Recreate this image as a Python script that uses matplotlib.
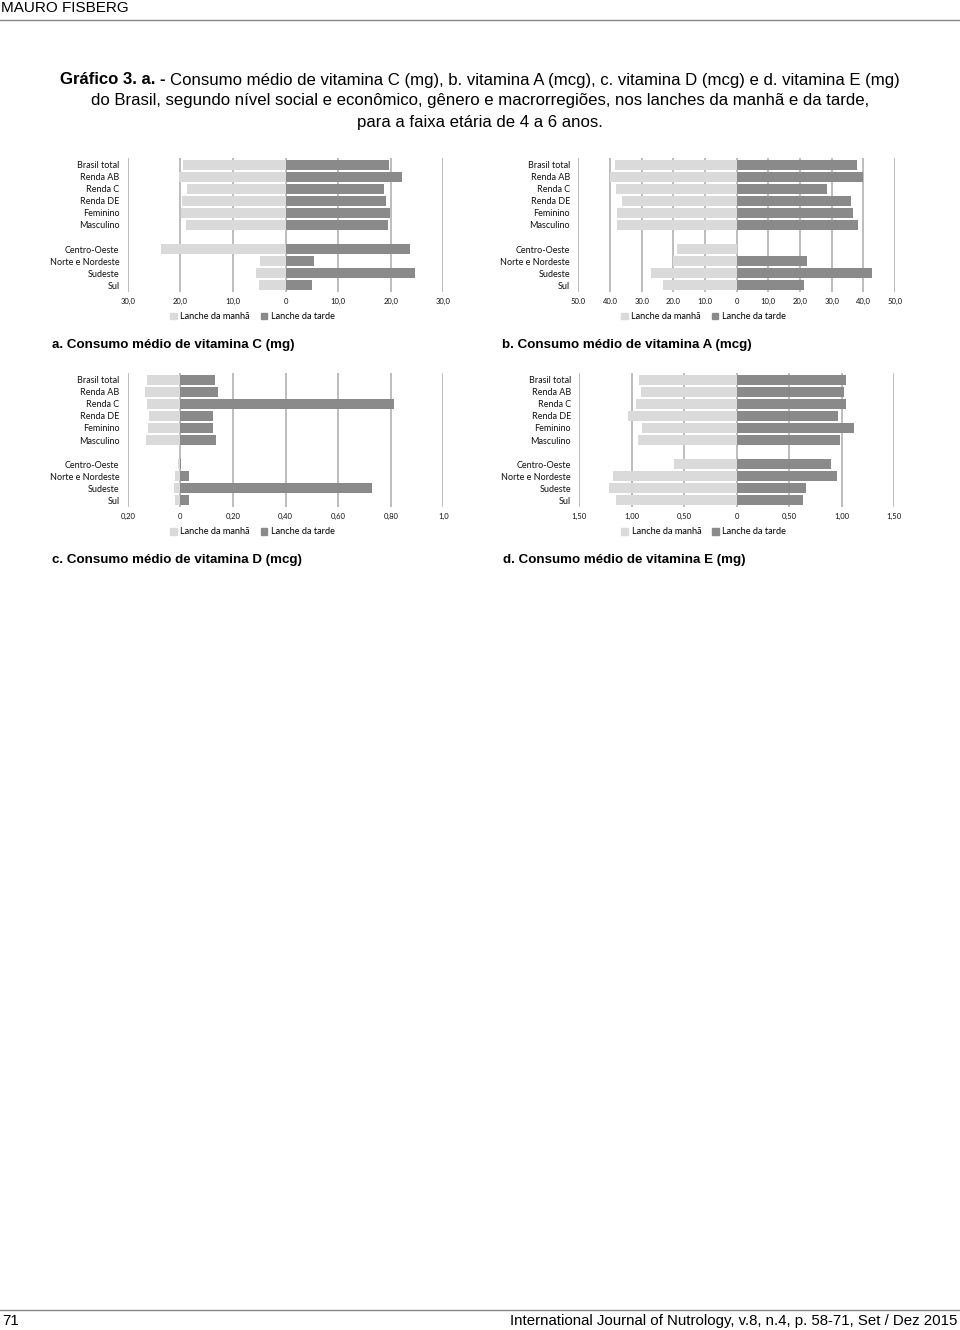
import numpy as np
import matplotlib
matplotlib.use('Agg')
import matplotlib.pyplot as plt
from matplotlib.patches import Patch
from matplotlib.lines import Line2D

# categorias (com um espaço entre gênero e macrorregiões)
categorias = ['Brasil total', 'Renda AB', 'Renda C', 'Renda DE', 'Feminino', 'Masculino',
              'Centro-Oeste', 'Norte e Nordeste', 'Sudeste', 'Sul']
ypos = [0, 1, 2, 3, 4, 5, 7, 8, 9, 10]

# a. vitamina C (mg)
vitC_manha = [19.4, 20.2, 18.7, 19.6, 19.9, 18.9, 23.7, 4.9, 5.6, 5.1]
vitC_tarde = [19.6, 22.1, 18.7, 19.2, 19.8, 19.4, 23.6, 5.4, 24.6, 5.1]
# b. vitamina A (mcg)
vitA_manha = [38.4, 39.9, 38.2, 36.1, 37.9, 37.9, 18.9, 20.2, 27.1, 23.1]
vitA_tarde = [37.9, 40.0, 28.4, 36.2, 36.6, 38.3, 0.0, 22.3, 42.7, 21.2]
# c. vitamina D (mcg)
vitD_manha = [0.128, 0.134, 0.125, 0.120, 0.123, 0.129, 0.009, 0.022, 0.023, 0.022]
vitD_tarde = [0.133, 0.143, 0.814, 0.125, 0.125, 0.134, 0.001, 0.034, 0.729, 0.033]
# d. vitamina E (mg)
vitE_manha = [0.93, 0.91, 0.96, 1.04, 0.90, 0.94, 0.60, 1.18, 1.22, 1.15]
vitE_tarde = [1.04, 1.02, 1.04, 0.96, 1.12, 0.98, 0.90, 0.95, 0.66, 0.63]

ticks_C = [-30, -20, -10, 0, 10, 20, 30]
ticklabels_C = ['30,0', '20,0', '10,0', '0', '10,0', '20,0', '30,0']
ticks_A = [-50, -40, -30, -20, -10, 0, 10, 20, 30, 40, 50]
ticklabels_A = ['50.0', '40.0', '30.0', '20.0', '10.0', '0', '10,0', '20,0', '30,0', '40,0', '50,0']
ticks_D = [-0.2, 0, 0.2, 0.4, 0.6, 0.8, 1.0]
ticklabels_D = ['0,20', '0', '0,20', '0,40', '0,60', '0,80', '1,0']
ticks_E = [-1.5, -1.0, -0.5, 0, 0.5, 1.0, 1.5]
ticklabels_E = ['1,50', '1,00', '0,50', '0', '0,50', '1,00', '1,50']

series = ['Lanche da manhã', 'Lanche da tarde']

W, H = 960, 1330
cor_manha = '#dadada'
cor_tarde = '#8a8a8a'
cor_grade = '#b8b8b8'
fonte_graf = 'Lato'
fonte_txt = ['Liberation Sans', 'DejaVu Sans']

fig = plt.figure(figsize=(W/100, H/100), dpi=100)


def px(x, y):
    # pixel (topo-esquerda) -> fração da figura
    return x / W, 1 - y / H


def painel(x0, x1, y0, y1, manha, tarde, ticks, ticklabels, subtitulo):
    ax = fig.add_axes([x0/W, 1 - y1/H, (x1 - x0)/W, (y1 - y0)/H])
    ax.barh(ypos, -np.array(manha), height=0.85, color=cor_manha, zorder=3)
    ax.barh(ypos, tarde, height=0.85, color=cor_tarde, zorder=3)
    ax.set_xlim(ticks[0], ticks[-1])
    ax.set_ylim(10.58, -0.58)
    ax.set_xticks(ticks)
    ax.set_xticklabels(ticklabels, fontsize=5.5, family=fonte_graf, color='#111111')
    ax.set_yticks(ypos)
    ax.set_yticklabels(categorias, fontsize=6.5, family=fonte_graf, color='#111111')
    ax.tick_params(length=0, pad=6)
    ax.tick_params(axis='x', pad=4)
    for t in ticks:
        ax.axvline(t, color=cor_grade, lw=1.3, zorder=1)
    for s in ax.spines.values():
        s.set_visible(False)
    handles = [Patch(color=cor_manha), Patch(color=cor_tarde)]
    cx = (x0 + x1) / 2 - 33
    fig.legend(handles, series, loc='center', bbox_to_anchor=px(cx, y1 + 25), ncol=2,
               frameon=False, handlelength=0.7, handleheight=0.7, handletextpad=0.4,
               columnspacing=1.2, prop={'family': fonte_graf, 'size': 6.6})
    fig.text(*px(x0 - 76, y1 + 53), subtitulo, fontsize=9.6, fontweight='bold',
             family=fonte_txt, va='center', ha='left')
    return ax


painel(127.7, 443.3, 158, 292, vitC_manha, vitC_tarde, ticks_C, ticklabels_C,
       'a. Consumo médio de vitamina C (mg)')
painel(578.3, 895.0, 158, 292, vitA_manha, vitA_tarde, ticks_A, ticklabels_A,
       'b. Consumo médio de vitamina A (mcg)')
painel(127.7, 443.3, 373, 507, vitD_manha, vitD_tarde, ticks_D, ticklabels_D,
       'c. Consumo médio de vitamina D (mcg)')
painel(579.3, 894.3, 373, 507, vitE_manha, vitE_tarde, ticks_E, ticklabels_E,
       'd. Consumo médio de vitamina E (mg)')

# cabeçalho e rodapé
fig.text(*px(1, 8), 'MAURO FISBERG', fontsize=11, family=fonte_txt, va='center', ha='left')
fig.add_artist(Line2D([0, 1], [1 - 20/H, 1 - 20/H], color='#888888', lw=1))
fig.add_artist(Line2D([0, 1], [1 - 1310/H, 1 - 1310/H], color='#888888', lw=1))
fig.text(*px(2, 1321), '71', fontsize=10.8, family=fonte_txt, va='center', ha='left')
fig.text(*px(957, 1321), 'International Journal of Nutrology, v.8, n.4, p. 58-71, Set / Dez 2015',
         fontsize=10.8, family=fonte_txt, va='center', ha='right')

# título com trecho em negrito
renderer = fig.canvas.get_renderer()
linha1 = [('Gráfico 3. a. - ', 'bold'),
          ('Consumo médio de vitamina C (mg), b. vitamina A (mcg), c. vitamina D (mcg) e d. vitamina E (mg)', 'normal')]
txts = [fig.text(0, 1 - 80/H, s, fontsize=12.1, fontweight=w, family=fonte_txt, va='center', ha='left')
        for s, w in linha1]
larg = [t.get_window_extent(renderer).width for t in txts]
x = 480 - sum(larg) / 2
for t, l in zip(txts, larg):
    t.set_x(x / W)
    x += l
fig.text(*px(480, 101), 'do Brasil, segundo nível social e econômico, gênero e macrorregiões, nos lanches da manhã e da tarde,',
         fontsize=12.1, family=fonte_txt, va='center', ha='center')
fig.text(*px(480, 122), 'para a faixa etária de 4 a 6 anos.', fontsize=12.1, family=fonte_txt,
         va='center', ha='center')

fig.savefig('out.png', dpi=100)
